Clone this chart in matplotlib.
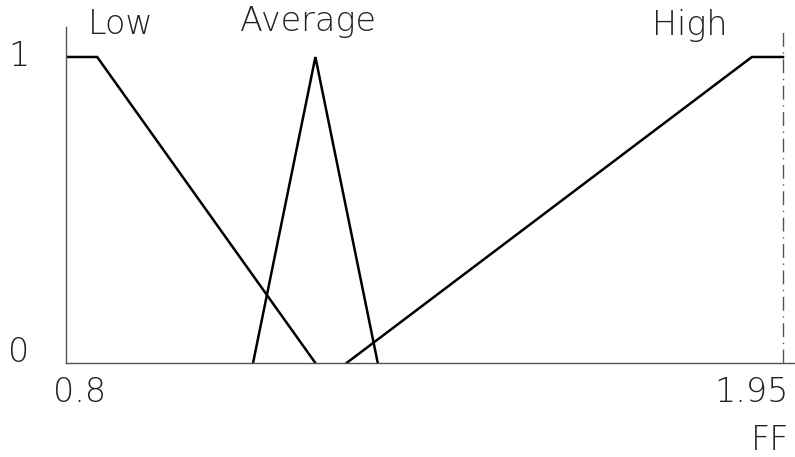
import matplotlib
matplotlib.use('Agg')
import matplotlib.pyplot as plt

# membership functions for FF
low_x = [0.8, 0.85, 1.2]
low_y = [1, 1, 0]
avg_x = [1.1, 1.2, 1.3]
avg_y = [0, 1, 0]
high_x = [1.25, 1.9, 1.95]
high_y = [0, 1, 1]

set_names = ['Low', 'Average', 'High']
x_min, x_max = 0.8, 1.95

plt.rcParams['font.family'] = 'DejaVu Sans'
plt.rcParams['font.weight'] = 'ultralight'

fig = plt.figure(figsize=(7.95, 4.57), dpi=100)
ax = fig.add_axes([66 / 795, 94 / 457, 1 - 66 / 795, 336 / 457])

for xs, ys in [(low_x, low_y), (avg_x, avg_y), (high_x, high_y)]:
    ax.plot(xs, ys, color='black', lw=1.8, solid_joinstyle='miter')

ax.axvline(x_max, color='#555555', lw=1.0, ls=(0, (10, 4, 1, 4)))

ax.set_xlim(x_min, x_min + (795 - 66) / 623.5)
ax.set_ylim(0, 1 + 30 / 306)

for s in ['top', 'right']:
    ax.spines[s].set_visible(False)
for s in ['left', 'bottom']:
    ax.spines[s].set_color('#555555')
    ax.spines[s].set_linewidth(1.0)
ax.set_xticks([])
ax.set_yticks([])

fs = 24
def px(x, y):
    return x / 795, 1 - y / 457

fig.text(*px(19, 57), '1', fontsize=fs, ha='center', va='center', color='#222222')
fig.text(*px(19, 352), '0', fontsize=fs, ha='center', va='center', color='#222222')
fig.text(*px(80, 393), '0.8', fontsize=fs, ha='center', va='center', color='#222222')
fig.text(*px(789, 393), '1.95', fontsize=fs, ha='right', va='center', color='#222222')
fig.text(*px(789, 440), 'FF', fontsize=fs, ha='right', va='center', color='#222222')

label_pos = [(121, 25), (308, 22), (690, 25)]
for name, (lx, ly) in zip(set_names, label_pos):
    fig.text(*px(lx, ly), name, fontsize=fs, ha='center', va='center', color='#222222')

fig.savefig('out.png', dpi=100)
